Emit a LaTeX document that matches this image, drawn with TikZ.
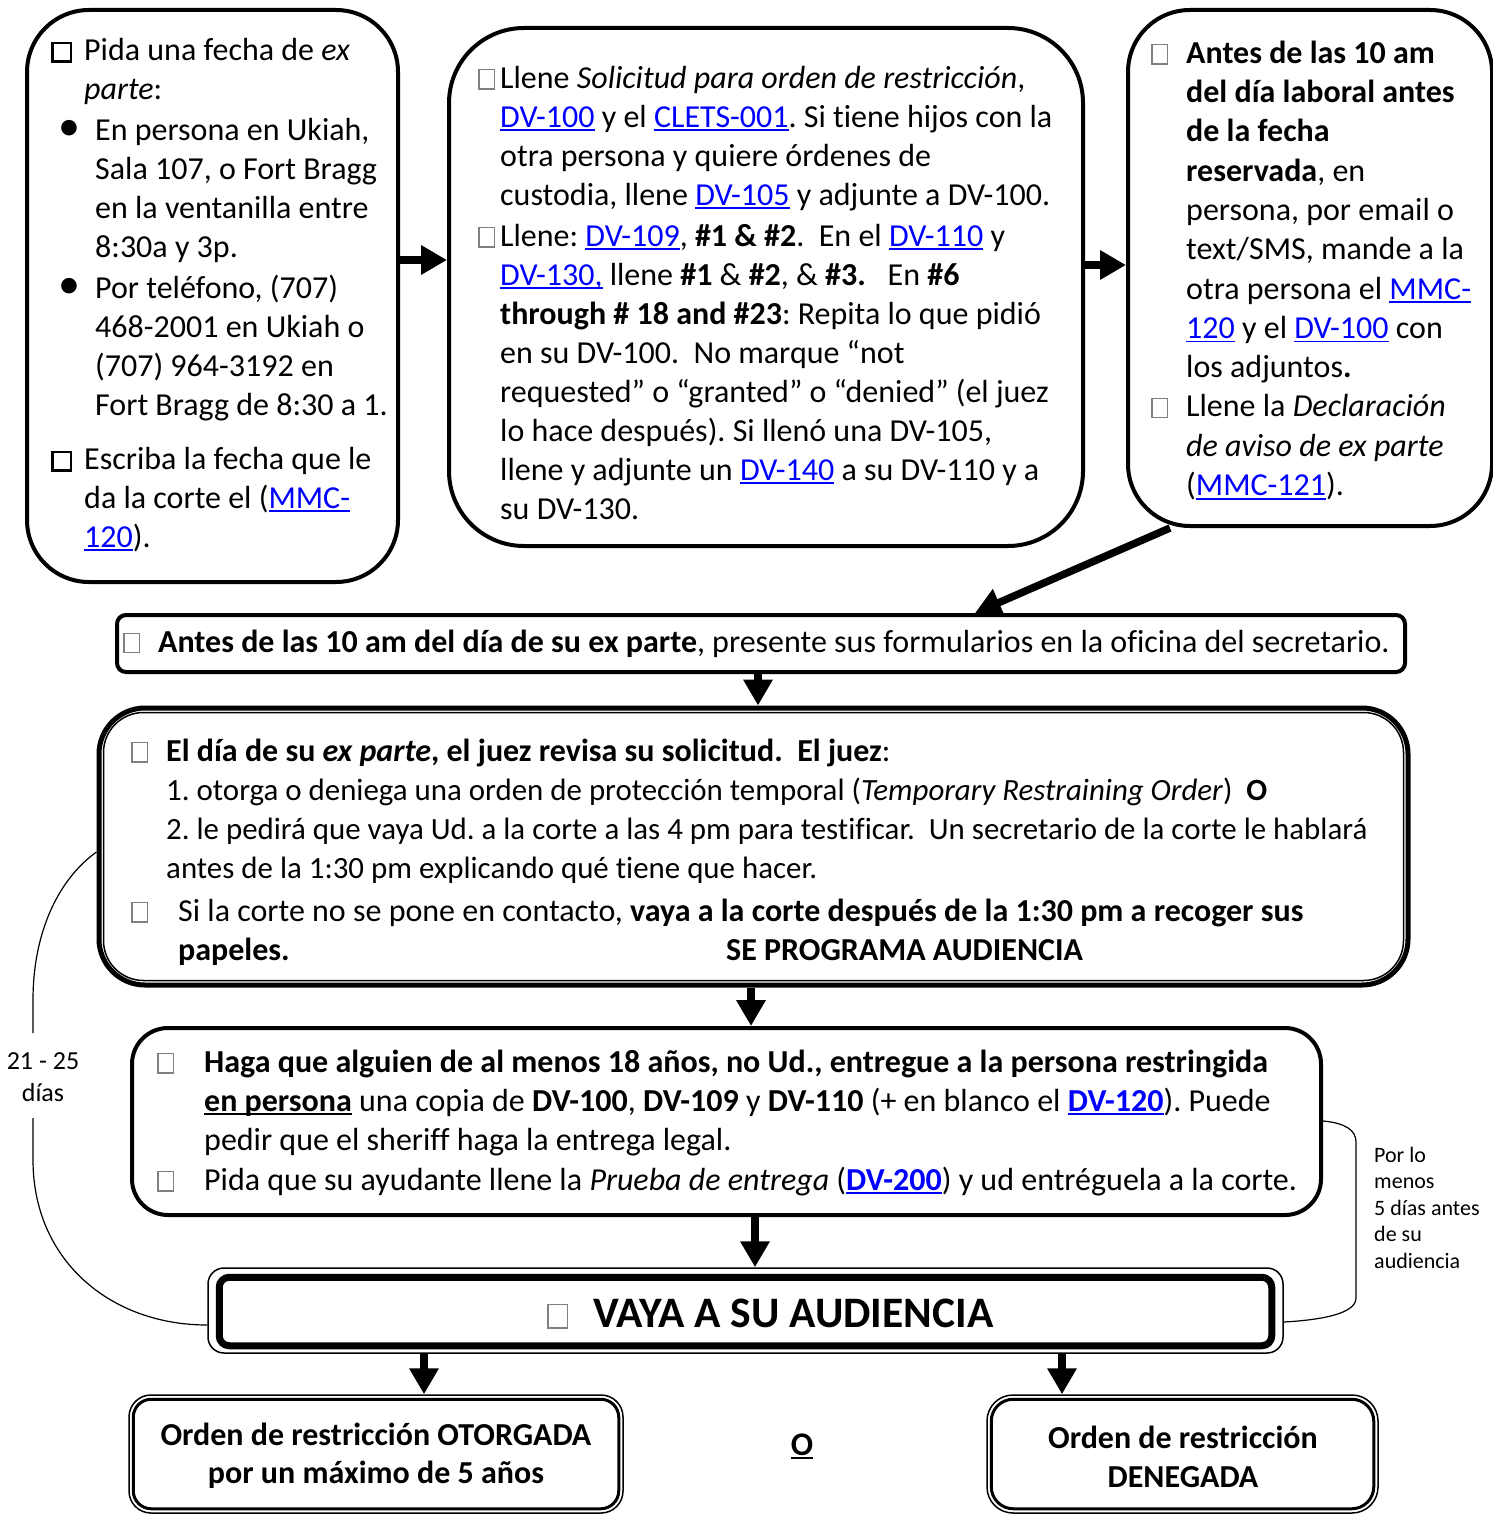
\documentclass[tikz,border=0pt]{standalone}
\usepackage{fontspec}
\setmainfont{Carlito}[Ligatures={NoCommon}]
\usetikzlibrary{arrows.meta,calc}
\definecolor{lnkblue}{RGB}{0,0,255}
\newsavebox\ulbox
\newcommand\uln[1]{\sbox\ulbox{#1}\rlap{\rule[-4pt]{\wd\ulbox}{1.8pt}}\usebox\ulbox}
\newcommand\lnk[1]{\textcolor{lnkblue}{\uln{#1}}}
\newcommand\gbox{\textcolor{black!50}{\setlength\fboxsep{0pt}\setlength\fboxrule{1.3pt}\fbox{\rule{0pt}{18pt}\rule{14pt}{0pt}}}}
\newcommand\bgbox{\textcolor{black!50}{\setlength\fboxsep{0pt}\setlength\fboxrule{1.5pt}\fbox{\rule{0pt}{22pt}\rule{18pt}{0pt}}}}
\newcommand\bbox{{\setlength\fboxsep{0pt}\setlength\fboxrule{2.4pt}\fbox{\rule{0pt}{16pt}\rule{16pt}{0pt}}}}
\newcommand\fl{\rule{0pt}{30pt}}
\newcommand\bul{{\fontsize{44}{39}\selectfont\textbullet}}
\newcommand\sml{\fontsize{30.9}{39}\selectfont}
\tikzset{
  txt/.style={anchor=north west, inner sep=0pt, align=left, font=\fontsize{32}{39}\selectfont},
  box/.style={draw, line width=4pt, inner sep=0pt},
  arr/.style={line width=7.5pt, -{Triangle[length=26pt,width=28pt]}},
  brk/.style={line width=1.2pt}
}
\begin{document}
\frenchspacing
\begin{tikzpicture}[x=1pt,y=-1pt]
\useasboundingbox (0,0) rectangle (1492,1514);
% ---------- boxes ----------
\node[box, rounded corners=62pt, minimum width=371pt, minimum height=572pt] (b1) at (212.5,296) {};
\node[box, rounded corners=75pt, minimum width=634pt, minimum height=518pt] (b2) at (766,287) {};
\node[box, rounded corners=62pt, minimum width=364pt, minimum height=516pt] (b3) at (1310,268) {};
\node[box, rounded corners=9pt, minimum width=1288pt, minimum height=57pt] (b4) at (761,643.5) {};
\node[box, line width=5pt, rounded corners=46pt, minimum width=1309pt, minimum height=277pt] (b5) at (753.5,846.5) {};
\draw[line width=1.5pt, rounded corners=40pt] ([shift={(7,7)}]b5.north west) rectangle ([shift={(-7,-7)}]b5.south east);
\node[box, rounded corners=36pt, minimum width=1189pt, minimum height=187pt] (b6) at (726.5,1121.5) {};
\node[box, line width=1.5pt, rounded corners=16pt, minimum width=1075pt, minimum height=85pt] (b7) at (745.5,1310.5) {};
\draw[line width=7pt, rounded corners=10pt] ([shift={(12,10)}]b7.north west) rectangle ([shift={(-12,-8)}]b7.south east);
\node[box, line width=1.5pt, rounded corners=22pt, minimum width=494pt, minimum height=118pt] (b8) at (376,1454) {};
\draw[line width=3pt, rounded corners=18pt] ([shift={(5,5)}]b8.north west) rectangle ([shift={(-5,-5)}]b8.south east);
\node[box, line width=1.5pt, rounded corners=26pt, minimum width=391pt, minimum height=118pt] (b9) at (1182.5,1454) {};
\draw[line width=3pt, rounded corners=22pt] ([shift={(5,5)}]b9.north west) rectangle ([shift={(-5,-5)}]b9.south east);
% ---------- texts ----------
\node[txt] (t1) at (51,30) {\fl\makebox[33pt][l]{\bbox}Pida una fecha de \textit{ex}\\
\hspace*{33pt}\textit{parte}:\\[2pt]
\hspace*{7pt}\makebox[37pt][l]{\bul}En persona en Ukiah,\\
\hspace*{44pt}Sala 107, o Fort Bragg\\
\hspace*{44pt}en la ventanilla entre\\
\hspace*{44pt}8:30a y 3p.\\[2pt]
\hspace*{7pt}\makebox[37pt][l]{\bul}Por teléfono, (707)\\
\hspace*{44pt}468-2001 en Ukiah o\\
\hspace*{44pt}(707) 964-3192 en\\
\hspace*{44pt}Fort Bragg de 8:30 a 1.\\[15pt]
\makebox[33pt][l]{\bbox}Escriba la fecha que le\\
\hspace*{33pt}da la corte el (\lnk{MMC-}\\
\hspace*{33pt}\lnk{120}).};
\node[txt] (t2) at (478,58) {\fl\makebox[22pt][l]{\gbox}Llene \textit{Solicitud para orden de restricción},\\
\hspace*{22pt}\lnk{DV-100} y el \lnk{CLETS-001}. Si tiene hijos con la\\
\hspace*{22pt}otra persona y quiere órdenes de\\
\hspace*{22pt}custodia, llene \lnk{DV-105} y adjunte a DV-100.\\[2pt]
\makebox[22pt][l]{\gbox}Llene: \lnk{DV-109}, \textbf{\#1 \& \#2}.\ \ En el \lnk{DV-110} y\\
\hspace*{22pt}\lnk{DV-130,} llene \textbf{\#1} \& \textbf{\#2}, \& \textbf{\#3.}\ \ \ En \textbf{\#6}\\
\hspace*{22pt}\textbf{through \# 18 and \#23}: Repita lo que pidió\\
\hspace*{22pt}en su DV-100.\ \ No marque “not\\
\hspace*{22pt}requested” o “granted” o “denied” (el juez\\
\hspace*{22pt}lo hace después). Si llenó una DV-105,\\
\hspace*{22pt}llene y adjunte un \lnk{DV-140} a su DV-110 y a\\
\hspace*{22pt}su DV-130.};
\node[txt, font=\fontsize{32}{39.3}\selectfont] (t3) at (1151,33) {\fl\makebox[35pt][l]{\gbox}\textbf{Antes de las 10 am}\\
\hspace*{35pt}\textbf{del día laboral antes}\\
\hspace*{35pt}\textbf{de la fecha}\\
\hspace*{35pt}\textbf{reservada}, en\\
\hspace*{35pt}persona, por email o\\
\hspace*{35pt}text/SMS, mande a la\\
\hspace*{35pt}otra persona el \lnk{MMC-}\\
\hspace*{35pt}\lnk{120} y el \lnk{DV-100} con\\
\hspace*{35pt}los adjuntos\textbf{.}\\
\makebox[35pt][l]{\gbox}Llene la \textit{Declaración}\\
\hspace*{35pt}\textit{de aviso de ex parte}\\
\hspace*{35pt}(\lnk{MMC-121}).};
\node[txt, anchor=base west] (t4) at (123,652) {\makebox[35pt][l]{\gbox}\textbf{Antes de las 10 am del día de su ex parte}, presente sus formularios en la oficina del secretario.};
\node[txt] (t5) at (131,731) {\fl\makebox[35pt][l]{\gbox}\textbf{El día de su \textit{ex parte}, el juez revisa su solicitud.\ \ El juez}:\\
\hspace*{35pt}{\sml 1. otorga o deniega una orden de protección temporal (\textit{Temporary Restraining Order})\ \ \textbf{O}}\\
\hspace*{35pt}{\sml 2. le pedirá que vaya Ud. a la corte a las 4 pm para testificar.\ \ Un secretario de la corte le hablará}\\
\hspace*{35pt}{\sml antes de la 1:30 pm explicando qué tiene que hacer.}\\[4pt]
\makebox[47pt][l]{\gbox}Si la corte no se pone en contacto, \textbf{vaya a la corte después de la 1:30 pm a recoger sus}\\
\hspace*{47pt}\makebox[548pt][l]{\textbf{papeles.}}\textbf{SE PROGRAMA AUDIENCIA}};
\node[txt] (t6) at (157,1042) {\fl\makebox[47pt][l]{\gbox}\textbf{Haga que alguien de al menos 18 años, no Ud., entregue a la persona restringida}\\
\hspace*{47pt}\textbf{\uln{en persona}} una copia de \textbf{DV-100}, \textbf{DV-109} y \textbf{DV-110} (+ en blanco el \textbf{\lnk{DV-120}}). Puede\\
\hspace*{47pt}pedir que el sheriff haga la entrega legal.\\[1pt]
\makebox[47pt][l]{\gbox}Pida que su ayudante llene la \textit{Prueba de entrega} (\textbf{\lnk{DV-200}}) y ud entréguela a la corte.};
\node[txt, anchor=base west, font=\fontsize{43.5}{50}\selectfont\bfseries] (t7) at (547,1327) {\makebox[46pt][l]{\bgbox}VAYA A SU AUDIENCIA};
\node[txt, anchor=north, align=center, font=\fontsize{32}{38}\selectfont\bfseries] (t8) at (376,1415) {\fl Orden de restricción OTORGADA\\por un máximo de 5 años};
\node[txt, anchor=north, align=center, font=\fontsize{32}{39}\selectfont\bfseries] (t9) at (1183,1418) {\fl Orden de restricción\\DENEGADA};
\node[txt, anchor=base, font=\fontsize{33}{39}\selectfont\bfseries] (or) at (802,1455) {\uln{O}};
\node[txt, anchor=north, align=center, font=\fontsize{26}{32}\selectfont] (lab1) at (43,1045) {\rule{0pt}{24pt}21 - 25\\días};
\node[txt, font=\fontsize{22}{26.5}\selectfont] (lab2) at (1374,1142) {\rule{0pt}{20pt}Por lo\\menos\\5 días antes\\de su\\audiencia};
% ---------- arrows ----------
\draw[arr] (b1.east |- 0,260) -- (b2.west |- 0,260);
\draw[arr] (b2.east |- 0,265) -- (b3.west |- 0,265);
\draw[arr] (b3.south -| 1170,0) -- (b4.north -| 975,0);
\draw[arr] (b4.south -| 758,0) -- (b5.north -| 758,0);
\draw[arr] (b5.south -| 751,0) -- (b6.north -| 751,0);
\draw[arr] (b6.south -| 755,0) -- (b7.north -| 755,0);
\draw[arr] (b7.south -| 424,0) -- (b8.north -| 424,0);
\draw[arr] (b7.south -| 1062,0) -- (b9.north -| 1062,0);
% ---------- brackets ----------
\coordinate (g1) at (33,1033);
\coordinate (g2) at (33,1118);
\draw[brk] (b5.west |- 0,852) .. controls (60,878) and (33,930) .. (33,1000) -- (g1);
\draw[brk] (g2) -- (33,1160) .. controls (33,1260) and (110,1325) .. (b7.west |- 0,1325);
\draw[brk] (b6.east |- 0,1121) .. controls (1345,1123) and (1356,1130) .. (1356,1142) -- (1356,1298) .. controls (1356,1314) and (1320,1320) .. (b7.east |- 0,1322);
\end{tikzpicture}
\end{document}
